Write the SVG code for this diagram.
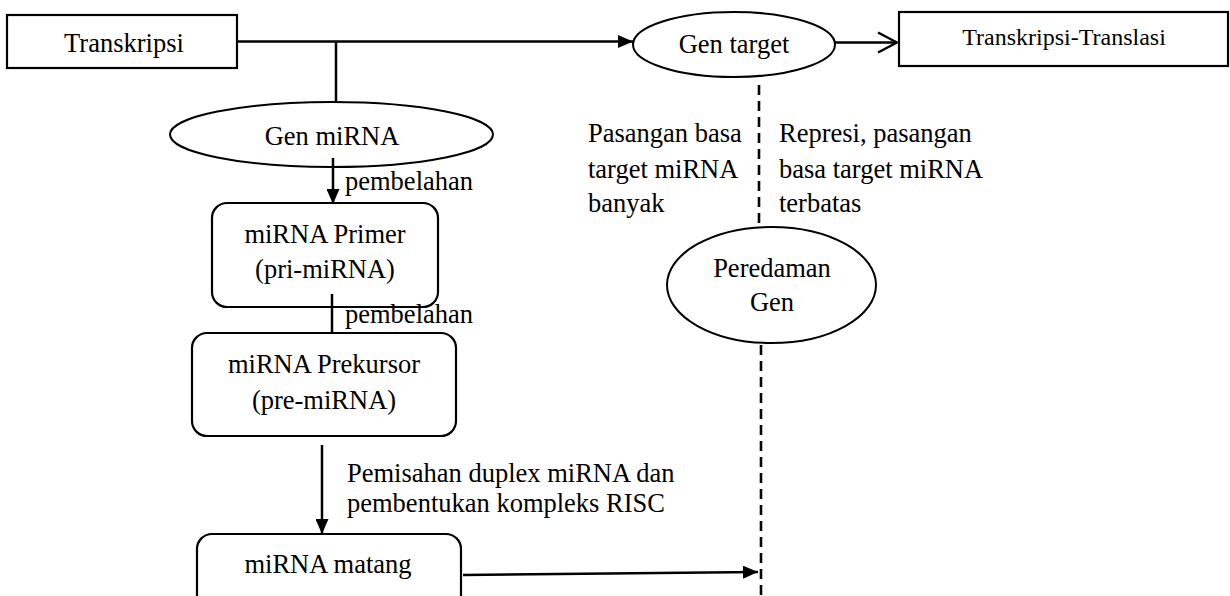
<svg xmlns="http://www.w3.org/2000/svg" width="1230" height="596" viewBox="0 0 1230 596">
<style>
text{font-family:"Liberation Serif","Times New Roman",serif;font-size:26.5px;fill:#000}
.c{text-anchor:middle}
.shape{fill:#fff;stroke:#000;stroke-width:2.2}
.ell{fill:#fff;stroke:#000;stroke-width:2}
.ln{stroke:#000;stroke-width:2.5;fill:none}
.dash{stroke:#000;stroke-width:2.6;fill:none;stroke-dasharray:10 6}
</style>
<defs>
<marker id="fa" viewBox="0 0 15 13" refX="15" refY="6.5" markerWidth="15" markerHeight="13" markerUnits="userSpaceOnUse" orient="auto">
<path d="M0,0 L15,6.5 L0,13 z" fill="#000"/>
</marker>
<marker id="oa" viewBox="0 0 22 24" refX="20" refY="12" markerWidth="22" markerHeight="24" markerUnits="userSpaceOnUse" orient="auto">
<path d="M1,2 L20,12 L1,22" fill="none" stroke="#000" stroke-width="2.5"/>
</marker>
</defs>
<g id="transkripsi">
<rect class="shape" x="7" y="15" width="230" height="53"/>
<text class="c" x="124" y="52">Transkripsi</text>
</g>
<g id="gen-target">
<ellipse class="ell" cx="734" cy="44.5" rx="101" ry="32.5"/>
<text class="c" x="734" y="53">Gen target</text>
</g>
<g id="transkripsi-translasi">
<rect class="shape" x="899" y="12" width="329" height="54"/>
<text class="c" x="1064" y="45" style="font-size:24px">Transkripsi-Translasi</text>
</g>
<g id="gen-mirna">
<ellipse class="ell" cx="331.5" cy="134.5" rx="161.5" ry="32.5"/>
<text class="c" x="332" y="145">Gen miRNA</text>
</g>
<g id="label-pembelahan-1">
<text x="345" y="190">pembelahan</text>
</g>
<g id="mirna-primer">
<rect class="shape" x="212" y="203" width="226" height="104" rx="15" ry="15"/>
<text class="c" x="325" y="243">miRNA Primer</text>
<text class="c" x="325" y="278">(pri-miRNA)</text>
</g>
<g id="label-pembelahan-2">
<text x="345" y="323">pembelahan</text>
</g>
<g id="mirna-prekursor">
<rect class="shape" x="192" y="333" width="264" height="103" rx="15" ry="15"/>
<text class="c" x="324" y="373">miRNA Prekursor</text>
<text class="c" x="324" y="409">(pre-miRNA)</text>
</g>
<g id="label-pemisahan">
<text x="347" y="482">Pemisahan duplex miRNA dan</text>
<text x="347" y="512">pembentukan kompleks RISC</text>
</g>
<g id="mirna-matang">
<rect class="shape" x="197" y="534" width="264" height="80" rx="15" ry="15"/>
<text class="c" x="328" y="573">miRNA matang</text>
</g>
<g id="label-left">
<text x="588" y="142">Pasangan basa</text>
<text x="588" y="178">target miRNA</text>
<text x="588" y="212">banyak</text>
</g>
<g id="label-right">
<text x="779" y="142">Represi, pasangan</text>
<text x="779" y="178">basa target miRNA</text>
<text x="779" y="212">terbatas</text>
</g>
<g id="peredaman-gen">
<ellipse class="ell" cx="771.5" cy="285" rx="104.5" ry="58"/>
<text class="c" x="772" y="277">Peredaman</text>
<text class="c" x="772" y="311">Gen</text>
</g>
<g id="connectors">
<line class="ln" x1="237" y1="41.5" x2="633" y2="41.5" marker-end="url(#fa)"/>
<line class="ln" x1="336" y1="41.5" x2="336" y2="102"/>
<line class="ln" x1="835" y1="42.5" x2="897" y2="42.5" marker-end="url(#oa)"/>
<line class="ln" x1="333" y1="158" x2="333" y2="204" marker-end="url(#fa)"/>
<line class="ln" x1="332" y1="294" x2="332" y2="334"/>
<line class="ln" x1="322" y1="445" x2="322" y2="534" marker-end="url(#fa)"/>
<line class="ln" x1="463" y1="575" x2="758" y2="572" marker-end="url(#fa)"/>
<line class="dash" x1="759" y1="85" x2="759" y2="227"/>
<line class="dash" x1="761" y1="345" x2="761" y2="596"/>
</g>
</svg>
